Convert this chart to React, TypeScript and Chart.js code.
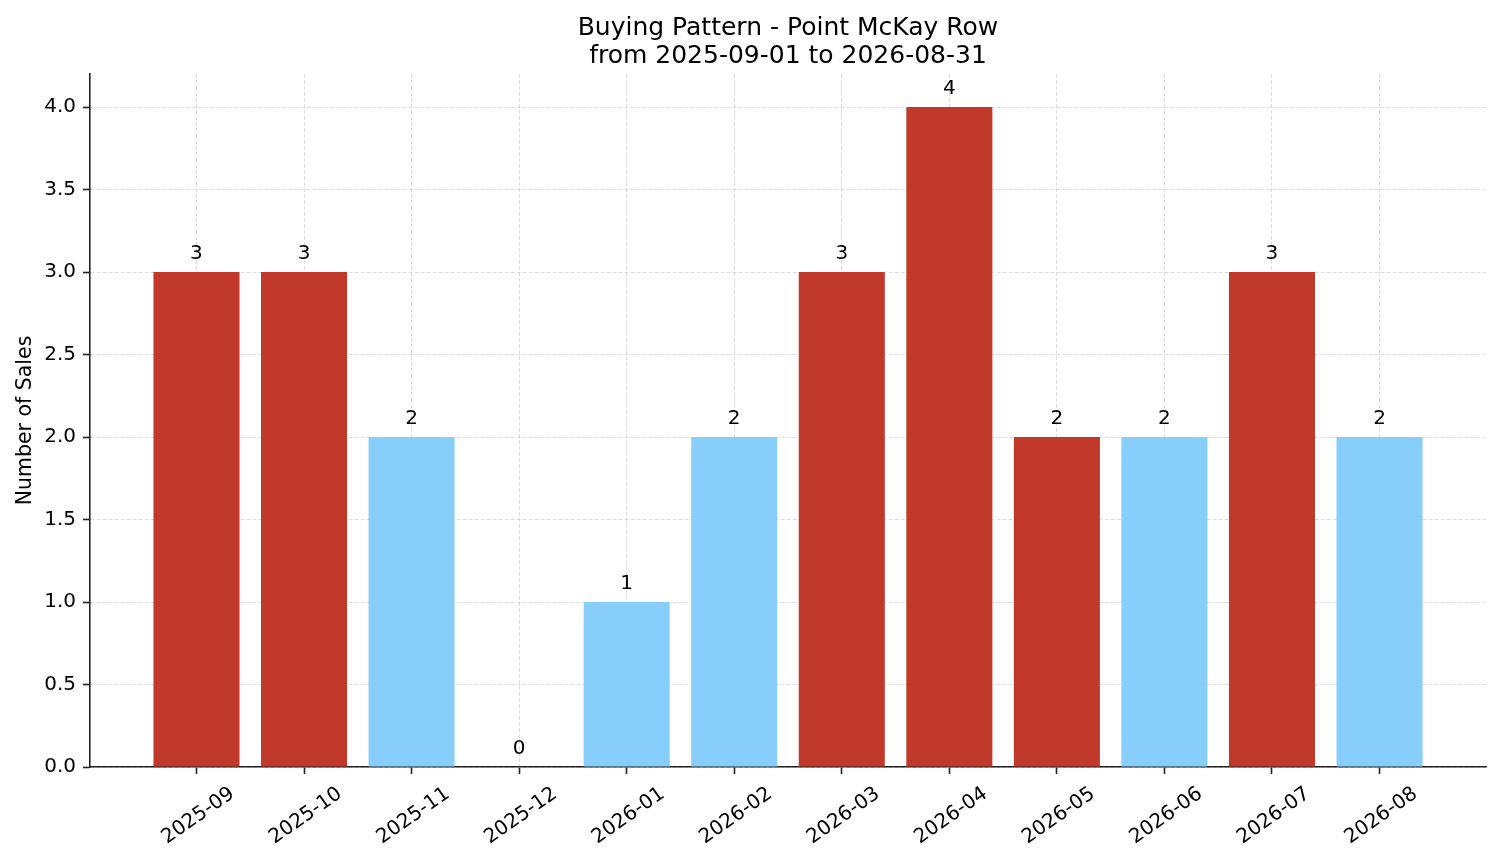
import { useEffect, useRef } from 'react';
import { Chart, registerables, Plugin } from 'chart.js';

Chart.register(...registerables);

const months = [
  '2025-09', '2025-10', '2025-11', '2025-12', '2026-01', '2026-02',
  '2026-03', '2026-04', '2026-05', '2026-06', '2026-07', '2026-08',
];
const sales = [3, 3, 2, 0, 1, 2, 3, 4, 2, 2, 3, 2];
const RED = '#c0392b';
const BLUE = '#87cefa';
const barColors = [RED, RED, BLUE, BLUE, BLUE, BLUE, RED, RED, RED, BLUE, RED, BLUE];
const yTicks = [0, 0.5, 1, 1.5, 2, 2.5, 3, 3.5, 4];
const titleLines = ['Buying Pattern - Point McKay Row', 'from 2025-09-01 to 2026-08-31'];

const FONT = "'DejaVu Sans', sans-serif";
const GRID = 'rgba(200, 200, 200, 0.8)';
const AXIS = '#222222';

// title centred over the plot area, like matplotlib's ax.set_title
const titlePlugin: Plugin<'bar'> = {
  id: 'axesTitle',
  afterDraw(chart) {
    const { ctx, chartArea } = chart;
    const cx = (chartArea.left + chartArea.right) / 2;
    ctx.save();
    ctx.fillStyle = '#000';
    ctx.font = `25px ${FONT}`;
    ctx.textAlign = 'center';
    ctx.textBaseline = 'alphabetic';
    ctx.fillText(titleLines[0], cx, chartArea.top - 39);
    ctx.fillText(titleLines[1], cx, chartArea.top - 11.5);
    ctx.restore();
  },
};

// count written above each bar
const valueLabels: Plugin<'bar'> = {
  id: 'valueLabels',
  afterDraw(chart) {
    const { ctx } = chart;
    const xs = chart.scales.x;
    const ys = chart.scales.y;
    ctx.save();
    ctx.fillStyle = '#000';
    ctx.font = `20px ${FONT}`;
    ctx.textAlign = 'center';
    ctx.textBaseline = 'alphabetic';
    sales.forEach((v, i) => {
      ctx.fillText(String(v), xs.getPixelForValue(i), ys.getPixelForValue(v + 0.05) - 5);
    });
    ctx.restore();
  },
};

export default function App() {
  const canvasRef = useRef<HTMLCanvasElement>(null);
  const chartRef = useRef<Chart | null>(null);

  useEffect(() => {
    if (!canvasRef.current) return;
    if (chartRef.current) chartRef.current.destroy();

    chartRef.current = new Chart(canvasRef.current, {
      type: 'bar',
      data: {
        datasets: [
          {
            label: 'Sales',
            data: sales.map((v, i) => ({ x: i, y: v })),
            backgroundColor: barColors,
            borderWidth: 0,
            categoryPercentage: 1,
            barPercentage: 0.8,
          },
        ],
      },
      plugins: [titlePlugin, valueLabels],
      options: {
        animation: false,
        responsive: true,
        maintainAspectRatio: false,
        layout: { padding: { left: 0, right: 15, top: 74, bottom: 0 } },
        plugins: {
          legend: { display: false },
          tooltip: { enabled: false },
          title: { display: false },
        },
        scales: {
          x: {
            type: 'linear',
            min: -0.99,
            max: 11.99,
            offset: false,
            z: 1,
            afterBuildTicks: (scale) => {
              scale.ticks = months.map((_, i) => ({ value: i }));
            },
            afterFit: (scale) => {
              scale.height = 96;
            },
            ticks: {
              autoSkip: false,
              maxRotation: 35,
              minRotation: 35,
              labelOffset: 36,
              padding: 8,
              color: '#000',
              font: { family: FONT, size: 20 },
              callback: (v) => months[Number(v)] ?? '',
            },
            grid: {
              offset: false,
              color: GRID,
              lineWidth: 0.8,
              tickColor: AXIS,
              tickWidth: 1.6,
              tickLength: 7,
              tickBorderDash: [],
            },
            border: { color: AXIS, width: 1.6, dash: [4, 2] },
          },
          y: {
            type: 'linear',
            min: 0,
            max: 4.2,
            z: 1,
            afterBuildTicks: (scale) => {
              scale.ticks = yTicks.map((value) => ({ value }));
            },
            afterFit: (scale) => {
              scale.width = 90;
            },
            ticks: {
              padding: 7,
              color: '#000',
              font: { family: FONT, size: 20 },
              callback: (v) => Number(v).toFixed(1),
            },
            grid: {
              color: GRID,
              lineWidth: 0.8,
              tickColor: AXIS,
              tickWidth: 1.6,
              tickLength: 7,
              tickBorderDash: [],
            },
            border: { color: AXIS, width: 1.6, dash: [4, 2] },
            title: {
              display: true,
              text: 'Number of Sales',
              color: '#000',
              font: { family: FONT, size: 20.5 },
              padding: { top: 13, bottom: 0 },
            },
          },
        },
      },
    });

    return () => {
      if (chartRef.current) {
        chartRef.current.destroy();
        chartRef.current = null;
      }
    };
  }, []);

  return (
    <div style={{ position: 'absolute', left: 0, top: 0, width: 1501, height: 863, background: '#fff' }}>
      <canvas ref={canvasRef}></canvas>
    </div>
  );
}
